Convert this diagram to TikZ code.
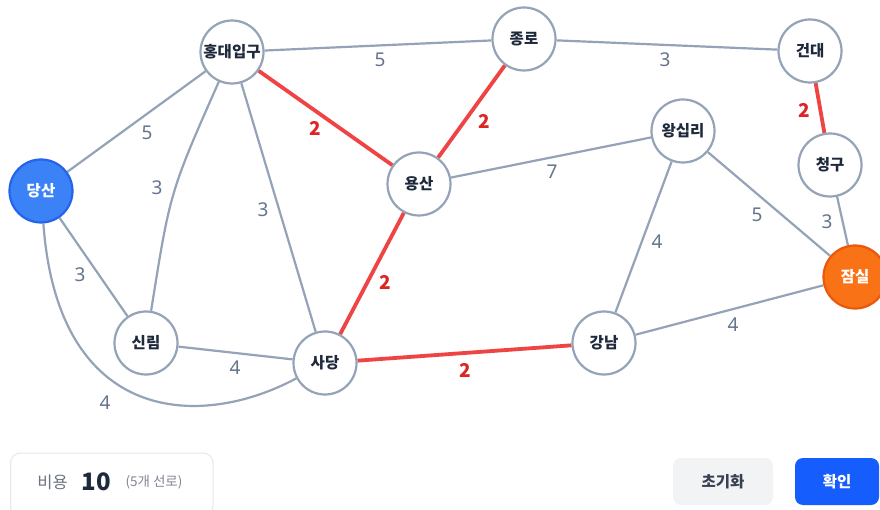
\documentclass[tikz,border=0pt]{standalone}
\usepackage{fontspec}
\setmainfont{Noto Sans CJK KR}
\newfontfamily\numfont{Noto Sans}
\usetikzlibrary{backgrounds}
\definecolor{edgec}{HTML}{94A3B8}
\definecolor{ink}{HTML}{1E293B}
\definecolor{wgray}{HTML}{64748B}
\definecolor{redc}{HTML}{EF4444}
\definecolor{redt}{HTML}{DC2626}
\definecolor{bluef}{HTML}{3B82F6}
\definecolor{blued}{HTML}{2563EB}
\definecolor{orangef}{HTML}{F97316}
\definecolor{oranged}{HTML}{EA580C}
\definecolor{boxline}{HTML}{E5E7EB}
\definecolor{btngray}{HTML}{F1F3F5}
\definecolor{btnblue}{HTML}{155DFC}
\definecolor{btntext}{HTML}{374151}
\definecolor{subgray}{HTML}{6B7280}
\begin{document}
\begin{tikzpicture}[x=1pt,y=-1pt,
  stn/.style={circle, draw=edgec, line width=2.2pt, fill=white, minimum size=63pt, inner sep=0pt,
    font=\bfseries\fontsize{15.5}{17}\selectfont, text=ink},
  startstn/.style={stn, draw=blued, fill=bluef, text=white},
  endstn/.style={stn, draw=oranged, fill=orangef, text=white},
  edge/.style={draw=edgec, line width=2.2pt},
  redge/.style={draw=redc, line width=3.8pt},
  wlab/.style={font=\numfont\fontsize{19}{21}\selectfont, text=wgray, inner sep=0pt},
  rlab/.style={font=\bfseries\fontsize{19}{21}\selectfont, text=redt, inner sep=0pt}]
\useasboundingbox (0,0) rectangle (880,510);

% stations
\node[startstn] (dangsan) at (41,191) {당산};
\node[stn] (hongdae) at (232,52) {홍대입구};
\node[stn] (jongno) at (524,39) {종로};
\node[stn] (kondae) at (810,51) {건대};
\node[stn] (cheonggu) at (830,165) {청구};
\node[stn] (wangsimni) at (683,131) {왕십리};
\node[stn] (yongsan) at (419,184) {용산};
\node[endstn] (jamsil) at (855,277) {잠실};
\node[stn] (sillim) at (146,343) {신림};
\node[stn] (sadang) at (325,363) {사당};
\node[stn] (gangnam) at (604,343) {강남};

\begin{pgfonlayer}{background}
\fill[white] (0,0) rectangle (880,510);
\draw[edge] (dangsan) -- (hongdae);
\draw[edge] (dangsan) -- (sillim);
\draw[edge] (dangsan) .. controls (58,425) and (200,430) .. (sadang);
\draw[edge] (hongdae) .. controls (170,192) .. (sillim);
\draw[edge] (hongdae) -- (sadang);
\draw[edge] (hongdae) -- (jongno);
\draw[redge] (hongdae) -- (yongsan);
\draw[redge] (jongno) -- (yongsan);
\draw[edge] (jongno) -- (kondae);
\draw[redge] (kondae) -- (cheonggu);
\draw[edge] (cheonggu) -- (jamsil);
\draw[edge] (yongsan) -- (wangsimni);
\draw[redge] (yongsan) -- (sadang);
\draw[edge] (wangsimni) -- (jamsil);
\draw[edge] (wangsimni) -- (gangnam);
\draw[edge] (gangnam) -- (jamsil);
\draw[redge] (sadang) -- (gangnam);
\draw[edge] (sillim) -- (sadang);
\end{pgfonlayer}

% weights
\node[wlab] (w1) at (147,133) {5};
\node[wlab] (w2) at (157,188) {3};
\node[wlab] (w3) at (80,275) {3};
\node[wlab] (w4) at (263,210) {3};
\node[rlab] (w5) at (315,128) {2};
\node[wlab] (w6) at (380,60) {5};
\node[rlab] (w7) at (484,121) {2};
\node[wlab] (w8) at (665,60) {3};
\node[rlab] (w9) at (804,110) {2};
\node[wlab] (w10) at (552,172) {7};
\node[wlab] (w11) at (757,215) {5};
\node[wlab] (w12) at (827,222) {3};
\node[wlab] (w13) at (657,242) {4};
\node[rlab] (w14) at (385,282) {2};
\node[wlab] (w15) at (733,325) {4};
\node[rlab] (w16) at (465,370) {2};
\node[wlab] (w17) at (235,368) {4};
\node[wlab] (w18) at (105,403) {4};

% bottom bar
\draw[draw=boxline, line width=1pt, fill=white, rounded corners=10pt] (10.5,453) rectangle (213,516);
\node[font=\fontsize{16.5}{18}\selectfont, text=subgray, inner sep=0pt] (costlbl) at (52.5,482) {비용};
\node[font=\bfseries\fontsize{24}{26}\selectfont, text=ink, inner sep=0pt] (costval) at (96,481.5) {10};
\node[font=\fontsize{13.5}{15}\selectfont, text=subgray!85, inner sep=0pt] (costsub) at (154,482) {(5개 선로)};

\node[fill=btngray, rounded corners=8pt, minimum width=100pt, minimum height=47pt, inner sep=0pt,
  font=\bfseries\fontsize{15.5}{17}\selectfont, text=btntext] (reset) at (723,481.5) {초기화};
\node[fill=btnblue, rounded corners=8pt, minimum width=84pt, minimum height=47pt, inner sep=0pt,
  font=\bfseries\fontsize{15.5}{17}\selectfont, text=white] (ok) at (837,481.5) {확인};
\end{tikzpicture}
\end{document}
